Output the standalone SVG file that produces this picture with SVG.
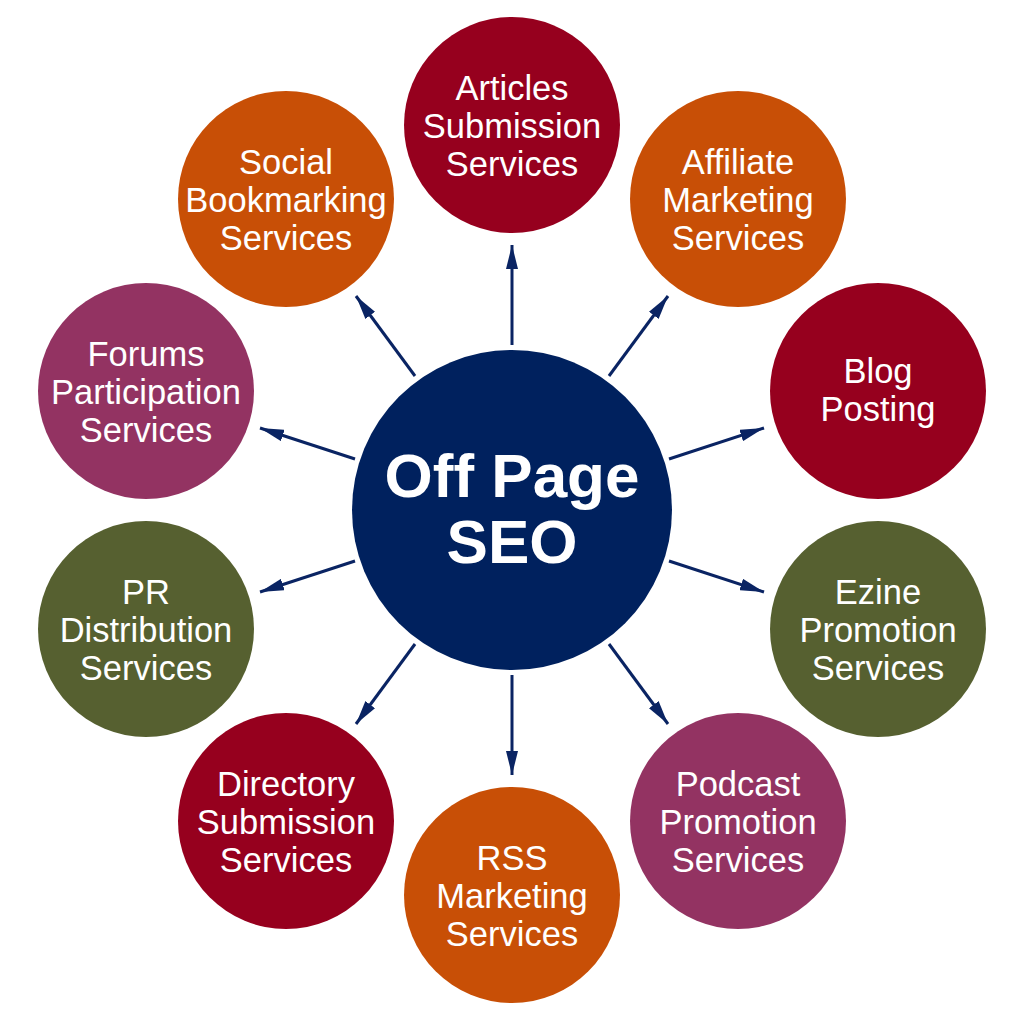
<svg xmlns="http://www.w3.org/2000/svg" width="1024" height="1024" viewBox="0 0 1024 1024">
<defs>
<marker id="ah" markerWidth="8" markerHeight="4" refX="8" refY="2" orient="auto" markerUnits="strokeWidth" viewBox="0 0 8 4">
<path d="M0,0 L8,2 L0,4 Z" fill="#0A2463"/>
</marker>
</defs>
<style>
.lbl{font-family:"Liberation Sans",Arial,sans-serif;font-size:34.5px;fill:#fff;text-anchor:middle}
.main{font-family:"Liberation Sans",Arial,sans-serif;font-size:62px;font-weight:bold;fill:#fff;text-anchor:middle}
.red{fill:#96001E}.orange{fill:#C84F06}.purple{fill:#933362}.olive{fill:#566030}
.conn line{stroke:#0A2463;stroke-width:3;marker-end:url(#ah)}
</style>
<rect width="1024" height="1024" fill="#fff"/>
<g id="connectors" class="conn">
<line x1="512" y1="345" x2="512" y2="245"/>
<line x1="609" y1="376" x2="668" y2="296"/>
<line x1="669" y1="459" x2="764" y2="428"/>
<line x1="669" y1="561" x2="764" y2="592"/>
<line x1="609" y1="644" x2="668" y2="724"/>
<line x1="512" y1="675" x2="512" y2="775"/>
<line x1="415" y1="644" x2="356" y2="724"/>
<line x1="355" y1="561" x2="260" y2="592"/>
<line x1="355" y1="459" x2="260" y2="428"/>
<line x1="415" y1="376" x2="356" y2="296"/>
</g>
<g id="center"><circle cx="512" cy="510" r="160" fill="#00215E"/>
<text class="main" x="512" y="497">Off Page</text><text class="main" x="512" y="563">SEO</text></g>
<g id="articles"><circle class="red" cx="512" cy="125" r="108"/>
<text class="lbl" x="512" y="100">Articles</text><text class="lbl" x="512" y="138">Submission</text><text class="lbl" x="512" y="176">Services</text></g>
<g id="affiliate"><circle class="orange" cx="738" cy="199" r="108"/>
<text class="lbl" x="738" y="174">Affiliate</text><text class="lbl" x="738" y="212">Marketing</text><text class="lbl" x="738" y="250">Services</text></g>
<g id="blog"><circle class="red" cx="878" cy="391" r="108"/>
<text class="lbl" x="878" y="383">Blog</text><text class="lbl" x="878" y="421">Posting</text></g>
<g id="ezine"><circle class="olive" cx="878" cy="629" r="108"/>
<text class="lbl" x="878" y="604">Ezine</text><text class="lbl" x="878" y="642">Promotion</text><text class="lbl" x="878" y="680">Services</text></g>
<g id="podcast"><circle class="purple" cx="738" cy="821" r="108"/>
<text class="lbl" x="738" y="796">Podcast</text><text class="lbl" x="738" y="834">Promotion</text><text class="lbl" x="738" y="872">Services</text></g>
<g id="rss"><circle class="orange" cx="512" cy="895" r="108"/>
<text class="lbl" x="512" y="870">RSS</text><text class="lbl" x="512" y="908">Marketing</text><text class="lbl" x="512" y="946">Services</text></g>
<g id="directory"><circle class="red" cx="286" cy="821" r="108"/>
<text class="lbl" x="286" y="796">Directory</text><text class="lbl" x="286" y="834">Submission</text><text class="lbl" x="286" y="872">Services</text></g>
<g id="pr"><circle class="olive" cx="146" cy="629" r="108"/>
<text class="lbl" x="146" y="604">PR</text><text class="lbl" x="146" y="642">Distribution</text><text class="lbl" x="146" y="680">Services</text></g>
<g id="forums"><circle class="purple" cx="146" cy="391" r="108"/>
<text class="lbl" x="146" y="366">Forums</text><text class="lbl" x="146" y="404">Participation</text><text class="lbl" x="146" y="442">Services</text></g>
<g id="social"><circle class="orange" cx="286" cy="199" r="108"/>
<text class="lbl" x="286" y="174">Social</text><text class="lbl" x="286" y="212">Bookmarking</text><text class="lbl" x="286" y="250">Services</text></g>
</svg>
